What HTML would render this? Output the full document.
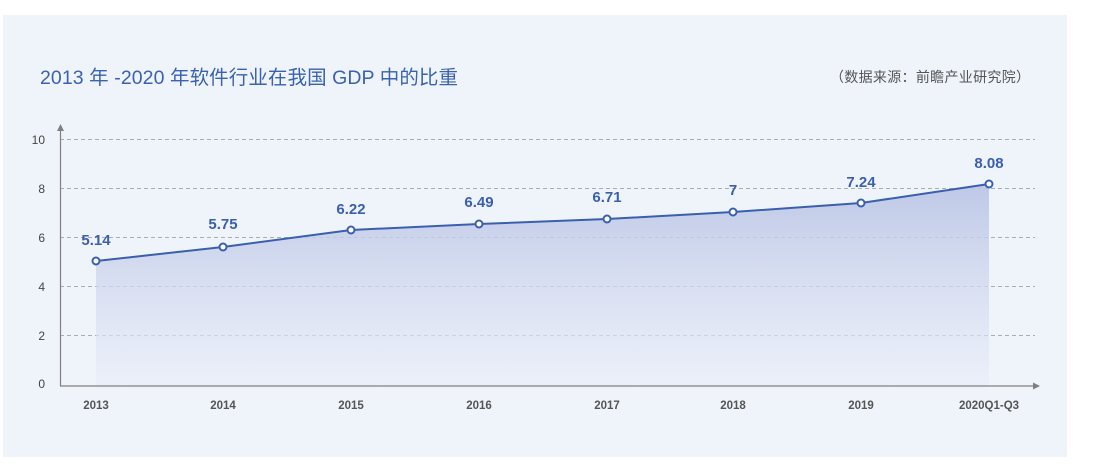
<!DOCTYPE html>
<html><head><meta charset="utf-8"><style>
body{margin:0;width:1093px;height:469px;background:#fff;overflow:hidden;font-family:"Liberation Sans","Noto Sans CJK SC",sans-serif}
</style></head><body>
<svg width="1093" height="469" xmlns="http://www.w3.org/2000/svg" style="position:absolute;left:0;top:0">
<defs><linearGradient id="g" x1="0" y1="0" x2="0" y2="1">
<stop offset="0" stop-color="#b9c3e4" stop-opacity="0.9"/><stop offset="1" stop-color="#e8edf8" stop-opacity="0.6"/></linearGradient></defs>
<rect x="3" y="15" width="1064" height="442" fill="#eff4fb"/>
<text x="40" y="84" font-size="19.5" fill="#3a62b3" textLength="418" lengthAdjust="spacing" font-family="Liberation Sans,Noto Sans CJK SC,sans-serif">2013 年 -2020 年软件行业在我国 GDP 中的比重</text>
<text x="830" y="82" font-size="14" fill="#555" textLength="200" lengthAdjust="spacing" font-family="Liberation Sans,Noto Sans CJK SC,sans-serif">（数据来源：前瞻产业研究院）</text>
<g stroke="#a8adb5" stroke-dasharray="4,3" stroke-width="1">
<line x1="60" y1="139.5" x2="1035" y2="139.5"/><line x1="60" y1="188.5" x2="1035" y2="188.5"/>
<line x1="60" y1="237.5" x2="1035" y2="237.5"/><line x1="60" y1="286.5" x2="1035" y2="286.5"/>
<line x1="60" y1="335.5" x2="1035" y2="335.5"/></g>
<polygon points="96,261 223,247 351,230 479,224 607,219 733,212 861,203 989,184 989,386 96,386" fill="url(#g)"/>
<line x1="60.5" y1="128" x2="60.5" y2="386" stroke="#808080" stroke-width="1.2"/>
<line x1="60" y1="386" x2="1034" y2="386" stroke="#808080" stroke-width="1.2"/>
<polygon points="60.5,124 57,131 64,131" fill="#808080"/>
<polygon points="1040,386 1033,382.5 1033,389.5" fill="#808080"/>
<g font-size="12" fill="#444" text-anchor="end">
<text x="45" y="144">10</text><text x="45" y="193">8</text><text x="45" y="242">6</text>
<text x="45" y="291">4</text><text x="45" y="340">2</text><text x="45" y="388">0</text></g>
<polyline points="96,261 223,247 351,230 479,224 607,219 733,212 861,203 989,184" fill="none" stroke="#3a5fb0" stroke-width="2"/>
<g fill="#fff" stroke="#3a5fb0" stroke-width="2">
<circle cx="96" cy="261" r="3.5"/><circle cx="223" cy="247" r="3.5"/><circle cx="351" cy="230" r="3.5"/>
<circle cx="479" cy="224" r="3.5"/><circle cx="607" cy="219" r="3.5"/><circle cx="733" cy="212" r="3.5"/>
<circle cx="861" cy="203" r="3.5"/><circle cx="989" cy="184" r="3.5"/></g>
<g font-size="15" fill="#3a5fb0" text-anchor="middle" font-weight="bold">
<text x="96" y="245">5.14</text><text x="223" y="229">5.75</text><text x="351" y="214">6.22</text>
<text x="479" y="207">6.49</text><text x="607" y="202">6.71</text><text x="733" y="195">7</text>
<text x="861" y="187">7.24</text><text x="989" y="168">8.08</text></g>
<g font-size="11.5" fill="#555" text-anchor="middle" font-weight="bold">
<text x="96" y="409">2013</text><text x="223" y="409">2014</text><text x="351" y="409">2015</text>
<text x="479" y="409">2016</text><text x="607" y="409">2017</text><text x="733" y="409">2018</text>
<text x="861" y="409">2019</text><text x="989" y="409">2020Q1-Q3</text></g>
</svg>
</body></html>
